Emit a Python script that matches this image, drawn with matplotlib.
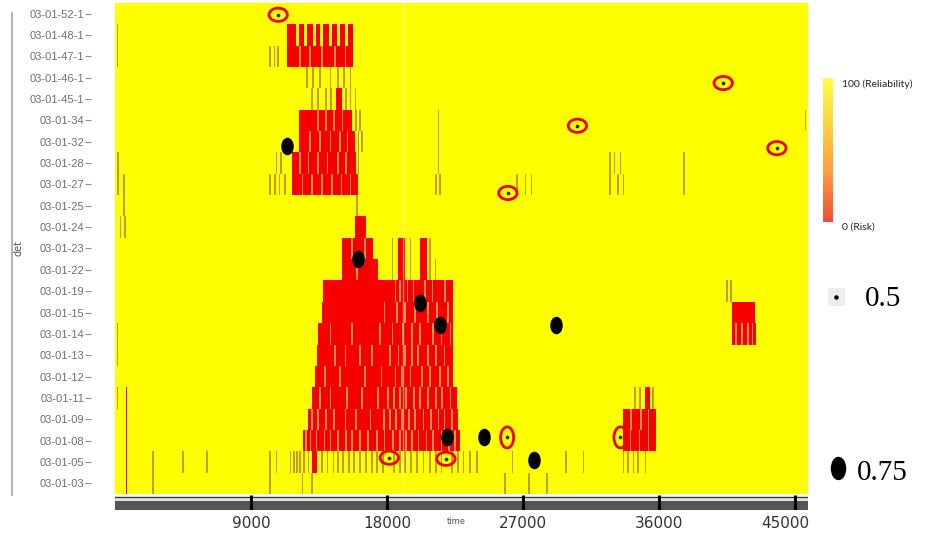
import numpy as np
import matplotlib.pyplot as plt
import matplotlib.transforms as mtransforms
from matplotlib.colors import ListedColormap, BoundaryNorm, LinearSegmentedColormap
from matplotlib.lines import Line2D
from matplotlib.path import Path

dets = ['03-01-52-1', '03-01-48-1', '03-01-47-1', '03-01-46-1', '03-01-45-1',
        '03-01-34', '03-01-32', '03-01-28', '03-01-27', '03-01-25', '03-01-24',
        '03-01-23', '03-01-22', '03-01-19', '03-01-15', '03-01-14', '03-01-13',
        '03-01-12', '03-01-11', '03-01-09', '03-01-08', '03-01-05', '03-01-03']

# risk periods (reliability 0), start/end in time units
red_spans = {
    '03-01-48-1': [(11400, 12000), (12200, 12500), (12700, 13100), (13300, 13550),
                   (13750, 14150), (14350, 14700), (14900, 15250), (15400, 15750)],
    '03-01-47-1': [(11400, 15750)],
    '03-01-45-1': [(14650, 15050)],
    '03-01-34': [(12200, 15700)],
    '03-01-32': [(12200, 15900)],
    '03-01-28': [(11700, 15950)],
    '03-01-27': [(11700, 16100)],
    '03-01-24': [(15900, 16600)],
    '03-01-23': [(15050, 17100), (18750, 19200), (20200, 20650)],
    '03-01-22': [(15050, 17400), (18750, 19200), (20200, 20650)],
    '03-01-19': [(13750, 22400)],
    '03-01-15': [(13700, 22400), (40850, 42350)],
    '03-01-14': [(13450, 22400), (40850, 42450)],
    '03-01-13': [(13350, 22400)],
    '03-01-12': [(13250, 22400)],
    '03-01-11': [(700, 800), (13050, 22650), (35100, 35400)],
    '03-01-09': [(700, 800), (12800, 22700), (33650, 35800)],
    '03-01-08': [(700, 800), (12450, 22850), (33650, 35800)],
    '03-01-05': [(700, 800), (13050, 13350)],
    '03-01-03': [(700, 800)],
}

# short low-reliability samples on otherwise reliable stretches
streaks = {
    '03-01-48-1': [150],
    '03-01-47-1': [150, 10250, 10550, 10800],
    '03-01-46-1': [12700, 13100, 13550, 14250, 14750, 15150, 15600],
    '03-01-45-1': [13050, 13450, 13950, 14300, 15300, 15600, 15900],
    '03-01-34': [15950, 16200, 21400, 45700],
    '03-01-32': [16100, 16350, 21400],
    '03-01-28': [200, 10700, 11000, 16100, 21400, 32750, 33050, 33450, 37650],
    '03-01-27': [200, 600, 10250, 10600, 10900, 11250, 21250, 21500, 26600, 27150,
                 27550, 32750, 33300, 33650, 37650],
    '03-01-25': [600, 16000],
    '03-01-24': [350, 650],
    '03-01-23': [18350, 19550, 20850],
    '03-01-22': [18350, 19550, 20850, 21200],
    '03-01-19': [40500, 40750],
    '03-01-14': [150],
    '03-01-13': [150],
    '03-01-11': [150, 34400, 34750, 35600],
    '03-01-05': [2500, 4500, 6100, 10250, 10700, 11600, 11850, 12050, 12250, 12500,
                 12800, 13700, 14050, 14450, 14750, 15100, 15500, 15800, 16200, 16600,
                 17000, 17350, 17750, 18450, 18850, 19200, 19600, 20000, 20400, 20850,
                 21250, 21600, 22300, 22700, 23050, 23500, 23950, 26300, 29850, 31000,
                 33650, 33950, 34300, 34600, 35100],
    '03-01-03': [2500, 10250, 12400, 13050, 25800, 27400, 28600],
}

# partial recoveries inside risk periods
tan_streaks = {
    '03-01-47-1': [12250, 12900, 13700, 14550, 15250],
    '03-01-34': [13450, 13950, 14500, 15050],
    '03-01-32': [12900, 13550, 14250, 14900, 15400],
    '03-01-28': [12250, 12800, 13450, 14050, 14750, 15300],
    '03-01-27': [12400, 13050, 13700, 14350, 15000, 15600],
    '03-01-23': [15700, 16550],
    '03-01-22': [16000],
    '03-01-19': [18550, 18850, 19350, 19750, 20500, 21000, 21850],
    '03-01-15': [17850, 18650, 19200, 19850, 20700, 21300, 22050],
    '03-01-14': [14250, 15700, 17550, 18350, 19050, 19650, 20200, 21050, 21600, 22200,
                 41100, 41500, 41900, 42200],
    '03-01-13': [14550, 15250, 16200, 17000, 18200, 18750, 19200, 19650, 20050, 20700,
                 21250, 21800],
    '03-01-12': [13900, 14900, 16550, 17650, 18550, 19000, 19550, 20300, 20850, 21500,
                 22050],
    '03-01-11': [13550, 14250, 15350, 16350, 17400, 18050, 18450, 18850, 19250, 19800,
                 20200, 20700, 21250, 21650, 22200],
    '03-01-09': [13050, 13450, 13950, 14500, 15250, 15950, 16900, 17800, 18200, 18600,
                 19000, 19450, 19850, 20400, 20900, 21400, 21800, 22300, 34150, 34800,
                 35300],
    '03-01-08': [12650, 12950, 13350, 13850, 14250, 14750, 15300, 15700, 16200, 16750,
                 17350, 17850, 18400, 18850, 19250, 19650, 20100, 20600, 21050, 21600,
                 22100, 22500, 34100, 34700, 35300],
}

# detected events: (time, detector row)
event_t = [11400, 16100, 20200, 21500, 29200, 22000, 24450, 27750]
event_row = [6.2, 11.5, 13.55, 14.6, 14.6, 19.85, 19.85, 20.9]
flag_t = [10800, 40250, 30600, 43800, 26000, 18150, 21900]
flag_row = [0.05, 3.25, 5.25, 6.3, 8.4, 20.8, 20.85]
flag_tall_t = [25950, 33450]
flag_tall_row = [19.85, 19.85]

t_ticks = [9000, 18000, 27000, 36000, 45000]
t_max = 45860

# reliability grid
t_step = 50
centers = np.arange(0, 46000, t_step) + t_step / 2
grid = np.full((len(dets), len(centers)), 100.0)
for name, spans in red_spans.items():
    i = dets.index(name)
    for a, b in spans:
        grid[i, (centers >= a) & (centers < b)] = 0
for name, ts in streaks.items():
    i = dets.index(name)
    for t in ts:
        grid[i, np.abs(centers - t) <= 50] = 35
for name, ts in tan_streaks.items():
    i = dets.index(name)
    for t in ts:
        grid[i, np.abs(centers - t) <= 50] = 65

W, H = 925, 534


def box(x0, y0, x1, y1):
    return [x0 / W, 1 - y1 / H, (x1 - x0) / W, (y1 - y0) / H]


def ellipse(sx, sy):
    c = Path.unit_circle()
    return Path(c.vertices * [sx, sy], c.codes)


fig = plt.figure(figsize=(9.25, 5.34), dpi=100)

ax = fig.add_axes(box(115, 3, 808, 494))
cmap = ListedColormap(['#F80000', '#C49A22', '#D8934A', '#FFFF00'])
norm = BoundaryNorm([0, 20, 50, 80, 101], cmap.N)
ax.imshow(grid, cmap=cmap, norm=norm, aspect='auto', interpolation='nearest',
          extent=[0, 46000, len(dets) - 0.5, -0.5])
ax.axvline(19050, color='white', alpha=0.45, lw=1)

ax.scatter(event_t, event_row, s=135, marker=ellipse(0.69, 1), c='black', zorder=3)
ax.scatter(flag_t, flag_row, s=175, marker=ellipse(1, 0.72), facecolors='none',
           edgecolors='#F00000', linewidths=2, zorder=3)
ax.scatter(flag_tall_t, flag_tall_row, s=230, marker=ellipse(0.62, 1), facecolors='none',
           edgecolors='#F00000', linewidths=2, zorder=3)
ax.scatter(flag_t + flag_tall_t, flag_row + flag_tall_row, s=3, c='#333333', zorder=4)
ax.set_xlim(0, t_max)
ax.set_ylim(len(dets) - 0.5, -0.5)
ax.set_xticks([])
ax.set_yticks([])
for s in ax.spines.values():
    s.set_visible(False)

# detector labels
lab = fig.add_axes(box(91, 3, 92, 494))
lab.set_facecolor('none')
lab.set_ylim(len(dets) - 0.5, -0.5)
lab.set_yticks(range(len(dets)))
lab.set_yticklabels(dets, fontsize=8, color='#707070', family='Liberation Sans')
lab.tick_params(axis='y', length=4, color='#909090', pad=1)
lab.set_xticks([])
for s in lab.spines.values():
    s.set_visible(False)
fig.add_artist(Line2D([12 / W, 12 / W], [1 - 13 / H, 1 - 495 / H], color='#b4b4b4', lw=1.5))
fig.text(18 / W, 1 - 248 / H, 'det', rotation=90, fontsize=7, color='#555555',
         ha='center', va='center')

# time scale bar
bar = fig.add_axes(box(115, 495, 808, 510))
bar.set_xlim(0, t_max)
bar.set_ylim(0, 1)
bar.axhspan(0, 0.62, color='#555555', lw=0)
bar.axhspan(0.62, 0.82, color='#e2e2e2', lw=0)
bar.axhline(0.86, color='#3a3a3a', lw=1)
bar.vlines(t_ticks, 0, 1, color='black', lw=2.2)
bar.set_xticks(t_ticks)
bar.set_xticklabels([str(t) for t in t_ticks])
bar.tick_params(axis='x', length=0, pad=4, labelsize=11, labelcolor='#333333')
last = bar.get_xticklabels()[-1]
last.set_ha('right')
last.set_transform(last.get_transform() +
                   mtransforms.ScaledTranslation(0.14, 0, fig.dpi_scale_trans))
bar.set_yticks([])
for s in bar.spines.values():
    s.set_visible(False)
fig.text(456 / W, 1 - 521 / H, 'time', fontsize=6, color='#555555', ha='center', va='center')

# reliability colour scale
cax = fig.add_axes(box(823, 78, 833, 222))
scale_cmap = LinearSegmentedColormap.from_list(
    'rel', ['#F04A3C', '#FF9A40', '#FFD040', '#FFFF40'])
cax.imshow(np.linspace(0, 100, 256)[:, None], aspect='auto', cmap=scale_cmap, origin='lower')
cax.axis('off')
fig.text(842 / W, 1 - 84 / H, '100 (Reliability)', fontsize=7.5, family='Lato',
         color='#222222', va='center')
fig.text(842 / W, 1 - 227 / H, '0 (Risk)', fontsize=7.5, family='Lato',
         color='#222222', va='center')

# event size legend
lg = fig.add_axes(box(815, 270, 925, 510))
lg.set_xlim(815, 925)
lg.set_ylim(510, 270)
lg.axis('off')
lg.add_patch(plt.Rectangle((828, 288), 17, 18, color='#eeeeee', lw=0))
lg.scatter([836], [297], s=5, c='black')
lg.scatter([838], [468], s=250, marker=ellipse(0.64, 1), c='black')
lg.text(865, 299, '0.5', fontsize=21, family='Liberation Serif', va='center')
lg.text(857, 473, '0.75', fontsize=21, family='Liberation Serif', va='center')

fig.savefig('out.png', dpi=100)
